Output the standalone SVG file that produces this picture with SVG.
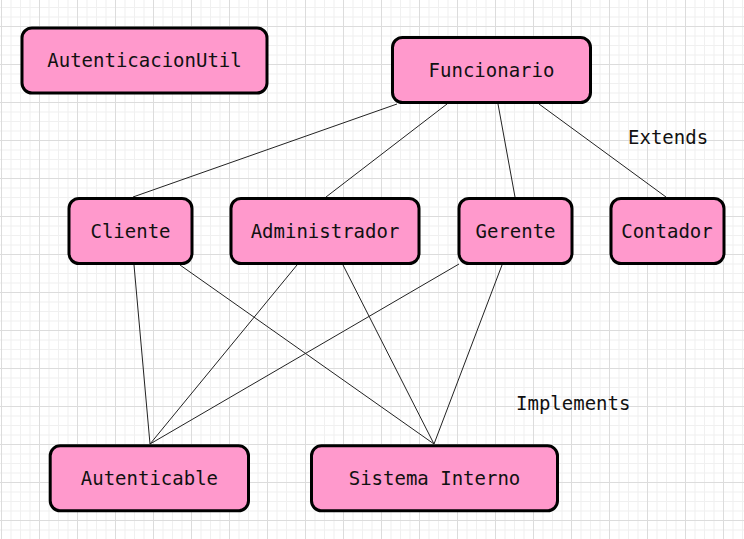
<svg xmlns="http://www.w3.org/2000/svg" width="744" height="539" viewBox="0 0 744 539">
  <defs>
    <pattern id="grid" patternUnits="userSpaceOnUse" x="1" y="26" width="38" height="38">
      <rect x="0" y="0" width="38" height="38" fill="#ffffff"/>
      <rect x="9.5" y="0" width="1" height="38" fill="#f0f0f0"/>
      <rect x="19" y="0" width="1" height="38" fill="#f0f0f0"/>
      <rect x="28.5" y="0" width="1" height="38" fill="#f0f0f0"/>
      <rect x="0" y="9.5" width="38" height="1" fill="#f0f0f0"/>
      <rect x="0" y="19" width="38" height="1" fill="#f0f0f0"/>
      <rect x="0" y="28.5" width="38" height="1" fill="#f0f0f0"/>
      <rect x="0" y="0" width="1" height="38" fill="#dcdcdc"/>
      <rect x="0" y="0" width="38" height="1" fill="#dcdcdc"/>
    </pattern>
  </defs>
  <style>
    .box { fill: #ff99cc; stroke: #000000; stroke-width: 3; }
    .lbl { font-family: "DejaVu Sans Mono", "Liberation Mono", monospace; font-size: 19px; fill: #111111; text-anchor: middle; }
    .note { font-family: "DejaVu Sans Mono", "Liberation Mono", monospace; font-size: 19px; fill: #111111; }
    .conn line { stroke: #222222; stroke-width: 1; }
  </style>
  <rect x="0" y="0" width="744" height="539" fill="url(#grid)"/>

  <g id="connectors" class="conn">
    <line x1="397" y1="104" x2="133" y2="197"/>
    <line x1="447" y1="104" x2="326" y2="197"/>
    <line x1="498" y1="104" x2="515" y2="197"/>
    <line x1="539" y1="104" x2="666" y2="197"/>
    <line x1="134" y1="265" x2="150" y2="444"/>
    <line x1="180" y1="265" x2="434" y2="444"/>
    <line x1="297" y1="265" x2="150" y2="444"/>
    <line x1="343" y1="265" x2="434" y2="444"/>
    <line x1="459" y1="264" x2="150" y2="444"/>
    <line x1="502" y1="265" x2="434" y2="444"/>
  </g>

  <g id="node-autenticacionutil">
    <rect class="box" x="22" y="28" width="245" height="65" rx="10" ry="10"/>
    <text class="lbl" x="144.5" y="67.3">AutenticacionUtil</text>
  </g>
  <g id="node-funcionario">
    <rect class="box" x="392.5" y="37.5" width="198" height="65" rx="10" ry="10"/>
    <text class="lbl" x="491.5" y="76.8">Funcionario</text>
  </g>
  <g id="node-cliente">
    <rect class="box" x="69" y="198.5" width="123" height="65" rx="10" ry="10"/>
    <text class="lbl" x="130.5" y="237.8">Cliente</text>
  </g>
  <g id="node-administrador">
    <rect class="box" x="231" y="198.5" width="188" height="65" rx="10" ry="10"/>
    <text class="lbl" x="325" y="237.8">Administrador</text>
  </g>
  <g id="node-gerente">
    <rect class="box" x="459" y="198.5" width="113" height="65" rx="10" ry="10"/>
    <text class="lbl" x="515.5" y="237.8">Gerente</text>
  </g>
  <g id="node-contador">
    <rect class="box" x="611" y="198.5" width="113" height="65" rx="10" ry="10"/>
    <text class="lbl" x="667" y="237.8">Contador</text>
  </g>
  <g id="node-autenticable">
    <rect class="box" x="50.2" y="445.8" width="198.3" height="65" rx="10" ry="10"/>
    <text class="lbl" x="149.4" y="485">Autenticable</text>
  </g>
  <g id="node-sistema-interno">
    <rect class="box" x="311.5" y="445.8" width="246" height="65" rx="10" ry="10"/>
    <text class="lbl" x="434.5" y="485">Sistema Interno</text>
  </g>

  <g id="labels">
    <text class="note" x="628" y="144">Extends</text>
    <text class="note" x="516" y="410">Implements</text>
  </g>
</svg>
